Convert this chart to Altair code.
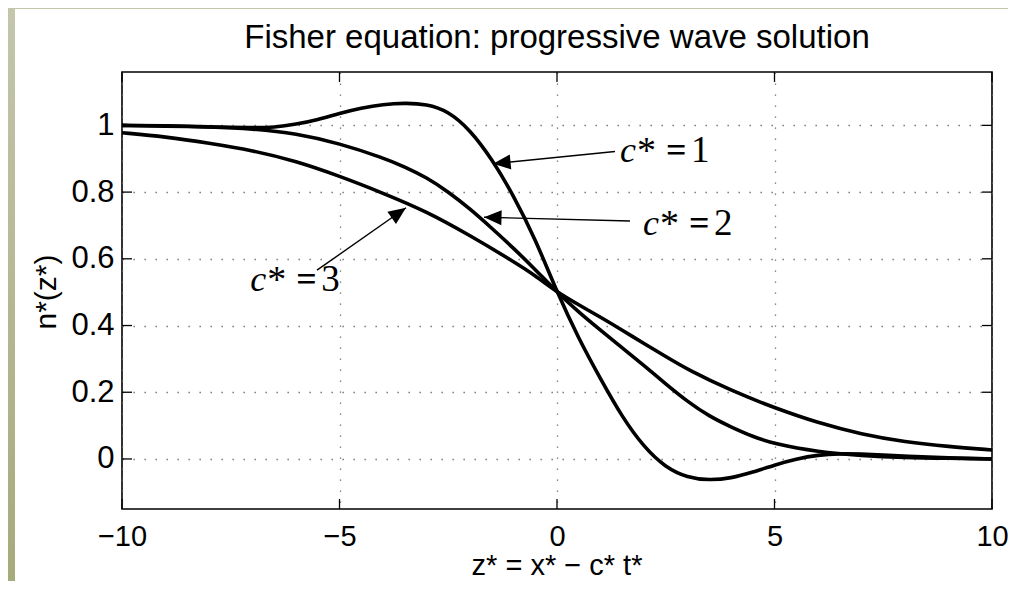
import math
import altair as alt
import pandas as pd

# ---------------- data ----------------
c1_z = [-10, -9, -8, -7, -6.5, -6, -5.5, -5, -4.5, -4, -3.5, -3, -2.5, -2, -1.5, -1, -0.5,
        0, 0.5, 1, 1.5, 2, 2.5, 3, 3.5, 4, 4.5, 5, 5.5, 6, 6.5, 7, 7.5, 8, 9, 10]
c1_n = [1.0, 0.998, 0.995, 0.993, 0.994, 1.003, 1.017, 1.036, 1.052, 1.063, 1.067, 1.064, 1.043,
        0.987, 0.9, 0.79, 0.66, 0.5, 0.36, 0.24, 0.125, 0.035, -0.026, -0.056, -0.064,
        -0.058, -0.04, -0.018, 0.0, 0.012, 0.016, 0.015, 0.012, 0.008, 0.003, 0.0]

c2_z = [-10, -9, -8, -7, -6, -5, -4, -3.5, -3, -2.5, -2, -1.5, -1, -0.5, 0, 0.5, 1, 1.5, 2,
        2.5, 3, 3.5, 4, 4.5, 5, 6, 7, 8, 9, 10]
c2_n = [1.0, 0.999, 0.996, 0.99, 0.976, 0.946, 0.903, 0.876, 0.844, 0.801, 0.75, 0.692, 0.632,
        0.568, 0.5, 0.44, 0.386, 0.333, 0.28, 0.225, 0.172, 0.128, 0.096, 0.067, 0.045, 0.021,
        0.01, 0.004, 0.002, 0.0]

c3_z = [-10, -9, -8, -7, -6, -5, -4, -3, -2, -1, -0.5, 0, 0.5, 1, 1.5, 2, 2.5, 3, 4, 5, 6,
        7, 8, 9, 10]
c3_n = [0.978, 0.966, 0.947, 0.925, 0.893, 0.848, 0.797, 0.742, 0.67, 0.592, 0.55, 0.5,
        0.462, 0.425, 0.386, 0.346, 0.307, 0.268, 0.205, 0.153, 0.108, 0.074, 0.051, 0.037,
        0.027]

x_ticks = [-10, -5, 0, 5, 10]
y_ticks = [0, 0.2, 0.4, 0.6, 0.8, 1.0]

# annotations ("c* = k" labels and arrows), in data coordinates
ann_k = ["1", "2", "3"]
ann_x = [1.448, 1.977, -7.05]
ann_y = [0.889, 0.671, 0.505]
arr_x0 = [1.333, 1.678, -5.517]
arr_y0 = [0.9216, 0.7135, 0.5659]
arr_x1 = [-1.469, -1.678, -3.471]
arr_y1 = [0.8852, 0.7246, 0.7530]

# ---------------- layout ----------------
W, H = 870, 437
XDOM = [-10, 10]
YDOM = [-0.15, 1.16]
PAD = {"left": 114, "top": 64, "right": 16, "bottom": 72}
SANS = "Liberation Sans"
SERIF = "Liberation Serif"

xs = alt.Scale(domain=XDOM, nice=False, zero=False)
ys = alt.Scale(domain=YDOM, nice=False, zero=False)

AX_X = alt.Axis(values=x_ticks, grid=True, ticks=False, tickSize=0, domain=False,
                labelFontSize=29, labelFont=SANS, labelColor="black", labelPadding=13,
                labelFlush=False, labelOverlap=False,
                title=None, gridColor="#666", gridDash=[1.3, 9.7], gridWidth=1.3)
AX_Y = alt.Axis(values=y_ticks, format="~g", grid=True, ticks=False, tickSize=0,
                domain=False, labelFontSize=31, labelFont=SANS, labelColor="black",
                labelPadding=8, labelFlush=False, labelOverlap=False,
                title=None, gridColor="#666", gridDash=[1.3, 9.7], gridWidth=1.3)

rows = []
for name, zz, nn in (("c1", c1_z, c1_n), ("c2", c2_z, c2_n), ("c3", c3_z, c3_n)):
    for a, b in zip(zz, nn):
        rows.append({"series": name, "z": a, "n": b})
curves = pd.DataFrame(rows)

kx = W / (XDOM[1] - XDOM[0])
ky = H / (YDOM[1] - YDOM[0])
angs = []
for a, b, c, d in zip(arr_x0, arr_y0, arr_x1, arr_y1):
    dx = (c - a) * kx
    dy = -(d - b) * ky
    angs.append(math.degrees(math.atan2(dx, -dy)) % 360)
arrows = pd.DataFrame({"x0": arr_x0, "y0": arr_y0, "x1": arr_x1, "y1": arr_y1, "ang": angs})
anns = pd.DataFrame({"x": ann_x, "y": ann_y, "k": ann_k})

xt = pd.DataFrame({"v": x_ticks})
yt = pd.DataFrame({"v": y_ticks})
one = pd.DataFrame({"a": [0]})

# ---------------- layers ----------------
grad = alt.LinearGradient(
    gradient="linear",
    stops=[alt.GradientStop(color="#c3c6ab", offset=0),
           alt.GradientStop(color="#a6ab7b", offset=1)],
    x1=0, x2=0, y1=0, y2=1)

left_strip = alt.Chart(one).mark_rect(fill=grad).encode(
    x=alt.value(-PAD["left"]), x2=alt.value(-PAD["left"] + 7),
    y=alt.value(-PAD["top"]), y2=alt.value(H + PAD["bottom"]))
top_strip = alt.Chart(one).mark_rect(color="#c3c6ab").encode(
    x=alt.value(-PAD["left"]), x2=alt.value(W + PAD["right"]),
    y=alt.value(-PAD["top"]), y2=alt.value(-PAD["top"] + 1))

lines = alt.Chart(curves).mark_line(color="black", strokeWidth=3.6, interpolate="basis").encode(
    x=alt.X("z:Q", scale=xs, axis=AX_X),
    y=alt.Y("n:Q", scale=ys, axis=AX_Y),
    detail="series:N")

tick_style = dict(color="black", strokeWidth=1.3)
xt_bot = alt.Chart(xt).mark_rule(**tick_style).encode(
    x=alt.X("v:Q", scale=xs, axis=AX_X), y=alt.value(H), y2=alt.value(H - 10))
xt_top = alt.Chart(xt).mark_rule(**tick_style).encode(
    x=alt.X("v:Q", scale=xs, axis=AX_X), y=alt.value(0), y2=alt.value(10))
yt_left = alt.Chart(yt).mark_rule(**tick_style).encode(
    y=alt.Y("v:Q", scale=ys, axis=AX_Y), x=alt.value(0), x2=alt.value(10))
yt_right = alt.Chart(yt).mark_rule(**tick_style).encode(
    y=alt.Y("v:Q", scale=ys, axis=AX_Y), x=alt.value(W - 10), x2=alt.value(W))

shafts = alt.Chart(arrows).mark_rule(color="black", strokeWidth=1.4).encode(
    x=alt.X("x0:Q", scale=xs, axis=AX_X), y=alt.Y("y0:Q", scale=ys, axis=AX_Y),
    x2="x1:Q", y2="y1:Q")
heads = alt.Chart(arrows).mark_point(
    shape="M0,0 L0.75,1.75 L-0.75,1.75 Z", size=400, filled=True, fill="black",
    opacity=1, strokeWidth=0).encode(
    x=alt.X("x1:Q", scale=xs, axis=AX_X), y=alt.Y("y1:Q", scale=ys, axis=AX_Y),
    angle=alt.Angle("ang:Q", scale=None))

ann_base = alt.Chart(anns).encode(
    x=alt.X("x:Q", scale=xs, axis=AX_X), y=alt.Y("y:Q", scale=ys, axis=AX_Y))
c_txt = ann_base.mark_text(text="c", font=SERIF, fontSize=36, fontStyle="italic",
                           align="left", baseline="alphabetic", color="black")
star_txt = ann_base.mark_text(text="*", font=SERIF, fontSize=38, align="left",
                              baseline="alphabetic", color="black", dx=17, dy=1)
eq_txt = ann_base.mark_text(text="=", font=SERIF, fontSize=36, fontWeight="bold",
                            align="left", baseline="alphabetic", color="black", dx=46)
k_txt = ann_base.mark_text(font=SERIF, fontSize=37, align="left", baseline="alphabetic",
                           color="black", dx=71).encode(text="k:N")

title = alt.Chart(one).mark_text(text="Fisher equation: progressive wave solution", font=SANS,
                                 fontSize=33, align="center", baseline="alphabetic",
                                 color="black").encode(
    x=alt.value(W / 2), y=alt.value(-24))
xtitle = alt.Chart(one).mark_text(text="z* = x* \u2212 c* t*", font=SANS, fontSize=29,
                                  align="center", baseline="alphabetic", color="black").encode(
    x=alt.value(W / 2), y=alt.value(H + 66))
ytitle = alt.Chart(one).mark_text(text="n*(z*)", font=SANS, fontSize=30, angle=270,
                                  align="center", baseline="alphabetic", color="black").encode(
    x=alt.value(-66), y=alt.value(220))

chart = alt.layer(
    left_strip, top_strip, lines, xt_bot, xt_top, yt_left, yt_right,
    shafts, heads, c_txt, star_txt, eq_txt, k_txt, title, xtitle, ytitle
).properties(
    width=W, height=H,
    autosize=alt.AutoSizeParams(type="none"),
    padding=PAD,
).configure(background="white").configure_view(stroke="black", strokeWidth=1.6)

chart.save("out.html", embed_options={"renderer": "svg", "actions": False})
